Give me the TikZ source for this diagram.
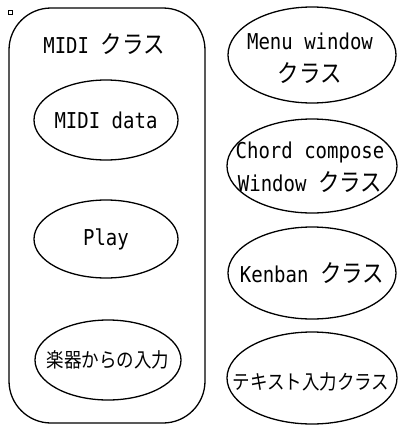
\documentclass[tikz,border=0pt]{standalone}
\usepackage{fontspec}
\usepackage{graphicx}
\setmainfont{DejaVu Sans Mono}
\newfontfamily\jpfont{Noto Sans CJK JP}
\usetikzlibrary{shapes.geometric}
\newcommand{\T}[1]{\scalebox{1}[1.15]{#1}}
\newcommand{\J}[1]{{\jpfont\fontsize{21.5}{21.5}\selectfont #1}}
\newcommand{\JS}[1]{{\jpfont\fontsize{17.5}{17.5}\selectfont #1}}
\begin{document}
\begin{tikzpicture}[x=1pt,y=-1pt,
  line width=1.3pt,
  every node/.style={font=\fontsize{19}{19}\selectfont},
  oval/.style={draw, ellipse, inner sep=0pt},
  lbl/.style={inner sep=0pt, align=center},
  frame/.style={draw, rounded corners=42pt, inner sep=0pt}]
\useasboundingbox (0,0) rectangle (398,426);
% small mark
\draw[line width=1pt] (8.5,10.5) rectangle (12.5,14.5);
% MIDI class frame
\node[frame, minimum width=196pt, minimum height=415pt] (midi) at (107,215.5) {};
\node[lbl] (midititle) at (104,44) {\T{MIDI \J{クラス}}};
\node[oval, minimum width=144pt, minimum height=80pt] (mididata) at (106,120) {};
\node[lbl] (mididatat) at (mididata.center) {\T{MIDI data}};
\node[oval, minimum width=144pt, minimum height=78pt] (play) at (106,239) {};
\node[lbl] (playt) at (play.center) {\T{Play}};
\node[oval, minimum width=146pt, minimum height=80pt] (gakki) at (108,360) {};
\node[lbl] (gakkit) at (gakki.center) {\T{\JS{楽器からの入力}}};
% right column
\node[oval, minimum width=168pt, minimum height=96pt] (menu) at (312,55) {};
\node[lbl] (menut) at (310,58) {\T{Menu window}\\[12pt]\T{\J{クラス}}};
\node[oval, minimum width=170pt, minimum height=94pt] (chord) at (312,166) {};
\node[lbl] (chordt) at (310,167) {\T{Chord compose}\\[7pt]\T{Window \J{クラス}}};
\node[oval, minimum width=168pt, minimum height=92pt] (kenban) at (312,273) {};
\node[lbl] (kenbant) at (kenban.center) {\T{Kenban \J{クラス}}};
\node[oval, minimum width=170pt, minimum height=92pt] (textin) at (312,378) {};
\node[lbl] (textint) at (311,382) {\T{\JS{テキスト入力クラス}}};
\end{tikzpicture}
\end{document}
